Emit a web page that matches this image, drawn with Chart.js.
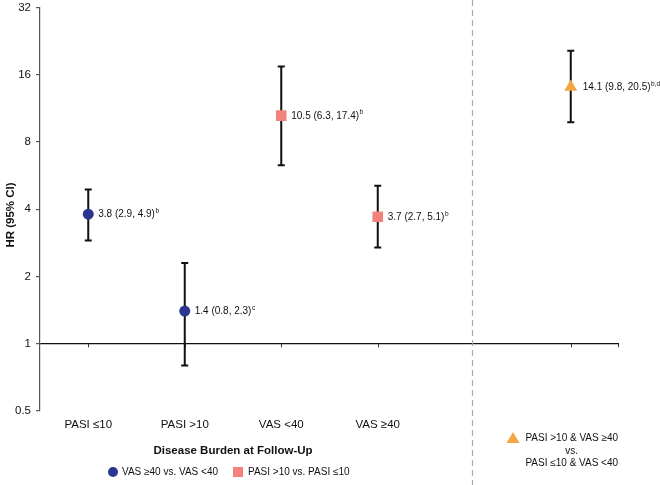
<!DOCTYPE html>
<html><head><meta charset="utf-8">
<script src="https://cdn.jsdelivr.net/npm/chart.js@4.4.1/dist/chart.umd.min.js"></script>
<style>html,body{margin:0;padding:0;background:#fff}#wrap{width:660px;height:485px}</style>
</head><body><div id="wrap"><canvas id="c" width="660" height="485"></canvas></div>
<script>
const categories = ['PASI ≤10', 'PASI >10', 'VAS <40', 'VAS ≥40', '', ''];
const circleHR = [3.8, 1.4, null, null, null, null];
const squareHR = [null, null, 10.5, 3.7, null, null];
const triangleHR = [null, null, null, null, null, 14.1];
const hr = [3.8, 1.4, 10.5, 3.7, null, 14.1];
const lower = [2.9, 0.8, 6.3, 2.7, null, 9.8];
const upper = [4.9, 2.3, 17.4, 5.1, null, 20.5];
const notes = ['b', 'c', 'b', 'b', '', 'b,d'];
const yTicks = [0.5, 1, 2, 4, 8, 16, 32];
const legendCircle = 'VAS ≥40 vs. VAS <40';
const legendSquare = 'PASI >10 vs. PASI ≤10';
const legendTriangle = ['PASI >10 & VAS ≥40', 'vs.', 'PASI ≤10 & VAS <40'];
const xTitle = 'Disease Burden at Follow-Up';
const yTitle = 'HR (95% CI)';

const NAVY = '#2b3590', SALMON = '#f2837a', ORANGE = '#f4a646';
const FONT = "'Liberation Sans', Arial, Helvetica, sans-serif";

const extras = {
  id: 'extras',
  beforeDatasetsDraw(chart) {
    const ctx = chart.ctx, x = chart.scales.x, y = chart.scales.y, a = chart.chartArea;
    ctx.save();
    ctx.strokeStyle = '#aaaaaa'; ctx.lineWidth = 1.2; ctx.setLineDash([6, 4]);
    const dx = Math.round(x.getPixelForValue(4)) - 1.5;
    ctx.beginPath(); ctx.moveTo(dx, 0); ctx.lineTo(dx, chart.height); ctx.stroke();
    ctx.setLineDash([]);
    const y1 = y.getPixelForValue(1);
    ctx.strokeStyle = '#333'; ctx.lineWidth = 1;
    [0, 1, 2, 3, 5].forEach(i => {
      const px = Math.round(x.getPixelForValue(i)) + 0.5;
      ctx.beginPath(); ctx.moveTo(px, y1); ctx.lineTo(px, y1 + 3.5); ctx.stroke();
    });
    ctx.beginPath(); ctx.moveTo(a.right - 0.5, y1); ctx.lineTo(a.right - 0.5, y1 + 3.5); ctx.stroke();
    ctx.strokeStyle = '#111'; ctx.lineWidth = 2;
    for (let i = 0; i < hr.length; i++) {
      if (hr[i] == null) continue;
      const px = x.getPixelForValue(i);
      const lo = y.getPixelForValue(lower[i]), hi = y.getPixelForValue(upper[i]);
      ctx.beginPath();
      ctx.moveTo(px, lo); ctx.lineTo(px, hi);
      ctx.moveTo(px - 3.5, lo); ctx.lineTo(px + 3.5, lo);
      ctx.moveTo(px - 3.5, hi); ctx.lineTo(px + 3.5, hi);
      ctx.stroke();
    }
    ctx.restore();
  },
  afterDatasetsDraw(chart) {
    const ctx = chart.ctx, x = chart.scales.x, y = chart.scales.y;
    ctx.save();
    ctx.fillStyle = '#111'; ctx.textBaseline = 'middle'; ctx.textAlign = 'left';
    for (let i = 0; i < hr.length; i++) {
      if (hr[i] == null) continue;
      const px = x.getPixelForValue(i) + (i === 5 ? 12 : 10);
      const py = y.getPixelForValue(hr[i]);
      const txt = hr[i].toFixed(1) + ' (' + lower[i].toFixed(1) + ', ' + upper[i].toFixed(1) + ')';
      ctx.font = '10px ' + FONT;
      ctx.fillText(txt, px, py + 0.5);
      const w = ctx.measureText(txt).width;
      ctx.font = '6.5px ' + FONT;
      ctx.fillText(notes[i], px + w + 0.5, py - 3);
    }
    ctx.font = 'bold 11.5px ' + FONT; ctx.textAlign = 'center';
    ctx.save(); ctx.translate(11, 215); ctx.rotate(-Math.PI / 2); ctx.fillText(yTitle, 0, 0); ctx.restore();
    const cx = (x.getPixelForValue(0) + x.getPixelForValue(3)) / 2;
    ctx.fillText(xTitle, cx, 451);
    ctx.font = '10px ' + FONT; ctx.textAlign = 'left';
    ctx.fillStyle = NAVY; ctx.beginPath(); ctx.arc(113, 472, 5, 0, Math.PI * 2); ctx.fill();
    ctx.fillStyle = '#111'; ctx.fillText(legendCircle, 122, 472);
    ctx.fillStyle = SALMON; ctx.fillRect(233, 467, 10, 10);
    ctx.fillStyle = '#111'; ctx.fillText(legendSquare, 248, 472);
    ctx.fillStyle = ORANGE; ctx.beginPath();
    ctx.moveTo(513, 432); ctx.lineTo(519.5, 443); ctx.lineTo(506.5, 443); ctx.closePath(); ctx.fill();
    ctx.fillStyle = '#111'; ctx.textAlign = 'center';
    const tx = x.getPixelForValue(5) + 1;
    ctx.fillText(legendTriangle[0], tx, 438);
    ctx.fillText(legendTriangle[1], tx, 451.5);
    ctx.fillText(legendTriangle[2], tx, 463);
    ctx.restore();
  }
};

new Chart(document.getElementById('c'), {
  type: 'line',
  data: {
    labels: categories,
    datasets: [
      { data: circleHR, showLine: false, pointStyle: 'circle', pointRadius: 5.5, pointHoverRadius: 5.5, backgroundColor: NAVY, borderColor: NAVY, borderWidth: 0 },
      { data: squareHR, showLine: false, pointStyle: 'rect', pointRadius: 7.5, pointHoverRadius: 7.5, backgroundColor: SALMON, borderColor: SALMON, borderWidth: 0 },
      { data: triangleHR, showLine: false, pointStyle: 'triangle', pointRadius: 7.5, pointHoverRadius: 7.5, backgroundColor: ORANGE, borderColor: ORANGE, borderWidth: 0 }
    ]
  },
  options: {
    responsive: false, animation: false,
    layout: { padding: { left: 0, right: 41, top: 7, bottom: 0 } },
    plugins: { legend: { display: false }, tooltip: { enabled: false } },
    scales: {
      x: {
        type: 'category', offset: true,
        grid: { display: false, drawTicks: false },
        border: { display: false },
        ticks: { font: { size: 11.5, family: FONT }, color: '#111', padding: 7, maxRotation: 0, autoSkip: false },
        afterFit(s) { s.height = 74; s.paddingLeft = 0; s.paddingRight = 0; }
      },
      y: {
        type: 'logarithmic', min: 0.5, max: 32,
        afterBuildTicks(s) { s.ticks = yTicks.map(v => ({ value: v })); },
        afterFit(s) { s.width = 40; s.paddingTop = 0; s.paddingBottom = 0; },
        ticks: { font: { size: 11.5, family: FONT }, color: '#111', padding: 5, callback: v => String(v) },
        grid: {
          color: c => (c.tick && c.tick.value === 1) ? '#111' : 'rgba(0,0,0,0)',
          lineWidth: 1.2, tickColor: '#555', tickLength: 4, drawTicks: true
        },
        border: { display: true, color: '#555', width: 1.2 }
      }
    }
  },
  plugins: [extras]
});
</script></body></html>
